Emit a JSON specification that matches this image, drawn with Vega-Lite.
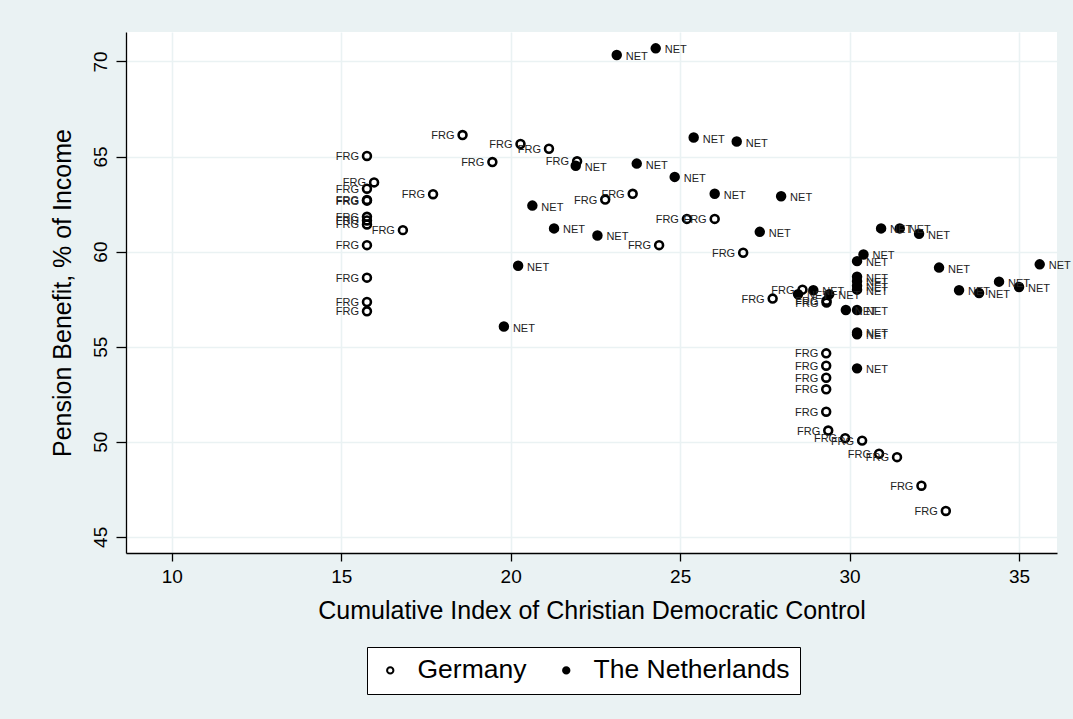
{
  "$schema": "https://vega.github.io/schema/vega-lite/v6.json",
  "width": 931,
  "height": 521,
  "autosize": {"type": "none"},
  "padding": {"left": 126, "top": 32, "right": 16, "bottom": 166},
  "background": "#EAF2F3",
  "config": {
    "font": "Liberation Sans",
    "view": {"fill": "white", "stroke": null},
    "axis": {
      "grid": true,
      "gridColor": "#EAF2F3",
      "gridWidth": 1.6,
      "domainColor": "black",
      "domainWidth": 1.3,
      "tickColor": "black",
      "tickWidth": 1.3,
      "labelColor": "black",
      "labelFontSize": 19,
      "labelFlush": false,
      "titleColor": "black",
      "titleFontSize": 25,
      "titleFontWeight": "normal"
    }
  },
  "data": {
    "values": [
      {"country": "Germany", "label": "FRG", "x": 18.58, "y": 66.13},
      {"country": "Germany", "label": "FRG", "x": 20.29, "y": 65.66},
      {"country": "Germany", "label": "FRG", "x": 21.13, "y": 65.41},
      {"country": "Germany", "label": "FRG", "x": 15.76, "y": 65.03},
      {"country": "Germany", "label": "FRG", "x": 19.46, "y": 64.71},
      {"country": "Germany", "label": "FRG", "x": 21.96, "y": 64.75},
      {"country": "Germany", "label": "FRG", "x": 15.97, "y": 63.64},
      {"country": "Germany", "label": "FRG", "x": 15.76, "y": 63.31},
      {"country": "Germany", "label": "FRG", "x": 15.76, "y": 62.72},
      {"country": "Germany", "label": "FRG", "x": 15.76, "y": 62.68},
      {"country": "Germany", "label": "FRG", "x": 17.71, "y": 63.02},
      {"country": "Germany", "label": "FRG", "x": 15.76, "y": 61.83},
      {"country": "Germany", "label": "FRG", "x": 15.76, "y": 61.64},
      {"country": "Germany", "label": "FRG", "x": 15.76, "y": 61.43},
      {"country": "Germany", "label": "FRG", "x": 16.82, "y": 61.13},
      {"country": "Germany", "label": "FRG", "x": 15.76, "y": 60.34},
      {"country": "Germany", "label": "FRG", "x": 15.76, "y": 58.63},
      {"country": "Germany", "label": "FRG", "x": 15.76, "y": 57.35},
      {"country": "Germany", "label": "FRG", "x": 15.76, "y": 56.86},
      {"country": "Germany", "label": "FRG", "x": 23.60, "y": 63.04},
      {"country": "Germany", "label": "FRG", "x": 22.79, "y": 62.74},
      {"country": "Germany", "label": "FRG", "x": 25.20, "y": 61.72},
      {"country": "Germany", "label": "FRG", "x": 26.02, "y": 61.72},
      {"country": "Germany", "label": "FRG", "x": 24.38, "y": 60.34},
      {"country": "Germany", "label": "FRG", "x": 26.86, "y": 59.94},
      {"country": "Germany", "label": "FRG", "x": 27.73, "y": 57.53},
      {"country": "Germany", "label": "FRG", "x": 28.61, "y": 58.00},
      {"country": "Germany", "label": "FRG", "x": 29.32, "y": 57.42},
      {"country": "Germany", "label": "FRG", "x": 29.32, "y": 57.32},
      {"country": "Germany", "label": "FRG", "x": 29.31, "y": 54.65},
      {"country": "Germany", "label": "FRG", "x": 29.31, "y": 54.00},
      {"country": "Germany", "label": "FRG", "x": 29.31, "y": 53.37},
      {"country": "Germany", "label": "FRG", "x": 29.31, "y": 52.76},
      {"country": "Germany", "label": "FRG", "x": 29.31, "y": 51.58},
      {"country": "Germany", "label": "FRG", "x": 29.37, "y": 50.59},
      {"country": "Germany", "label": "FRG", "x": 29.87, "y": 50.19},
      {"country": "Germany", "label": "FRG", "x": 30.37, "y": 50.06},
      {"country": "Germany", "label": "FRG", "x": 30.87, "y": 49.37},
      {"country": "Germany", "label": "FRG", "x": 31.40, "y": 49.19},
      {"country": "Germany", "label": "FRG", "x": 32.12, "y": 47.69},
      {"country": "Germany", "label": "FRG", "x": 32.84, "y": 46.36},
      {"country": "The Netherlands", "label": "NET", "x": 23.13, "y": 70.34},
      {"country": "The Netherlands", "label": "NET", "x": 24.28, "y": 70.69},
      {"country": "The Netherlands", "label": "NET", "x": 25.40, "y": 66.00},
      {"country": "The Netherlands", "label": "NET", "x": 26.67, "y": 65.79},
      {"country": "The Netherlands", "label": "NET", "x": 21.92, "y": 64.52},
      {"country": "The Netherlands", "label": "NET", "x": 23.72, "y": 64.63},
      {"country": "The Netherlands", "label": "NET", "x": 24.84, "y": 63.93},
      {"country": "The Netherlands", "label": "NET", "x": 26.02, "y": 63.04},
      {"country": "The Netherlands", "label": "NET", "x": 27.98, "y": 62.91},
      {"country": "The Netherlands", "label": "NET", "x": 20.64, "y": 62.42},
      {"country": "The Netherlands", "label": "NET", "x": 21.28, "y": 61.22},
      {"country": "The Netherlands", "label": "NET", "x": 22.56, "y": 60.85},
      {"country": "The Netherlands", "label": "NET", "x": 27.35, "y": 61.04},
      {"country": "The Netherlands", "label": "NET", "x": 20.22, "y": 59.26},
      {"country": "The Netherlands", "label": "NET", "x": 19.80, "y": 56.06},
      {"country": "The Netherlands", "label": "NET", "x": 30.93, "y": 61.22},
      {"country": "The Netherlands", "label": "NET", "x": 31.48, "y": 61.22},
      {"country": "The Netherlands", "label": "NET", "x": 32.05, "y": 60.94},
      {"country": "The Netherlands", "label": "NET", "x": 30.41, "y": 59.85},
      {"country": "The Netherlands", "label": "NET", "x": 30.22, "y": 59.50},
      {"country": "The Netherlands", "label": "NET", "x": 32.64, "y": 59.16},
      {"country": "The Netherlands", "label": "NET", "x": 35.61, "y": 59.33},
      {"country": "The Netherlands", "label": "NET", "x": 30.22, "y": 58.68},
      {"country": "The Netherlands", "label": "NET", "x": 30.22, "y": 58.44},
      {"country": "The Netherlands", "label": "NET", "x": 30.22, "y": 58.21},
      {"country": "The Netherlands", "label": "NET", "x": 30.22, "y": 58.00},
      {"country": "The Netherlands", "label": "NET", "x": 34.41, "y": 58.42},
      {"country": "The Netherlands", "label": "NET", "x": 35.00, "y": 58.14},
      {"country": "The Netherlands", "label": "NET", "x": 33.23, "y": 57.97},
      {"country": "The Netherlands", "label": "NET", "x": 33.82, "y": 57.82},
      {"country": "The Netherlands", "label": "NET", "x": 28.48, "y": 57.76},
      {"country": "The Netherlands", "label": "NET", "x": 28.93, "y": 57.97},
      {"country": "The Netherlands", "label": "NET", "x": 29.40, "y": 57.76},
      {"country": "The Netherlands", "label": "NET", "x": 29.89, "y": 56.93},
      {"country": "The Netherlands", "label": "NET", "x": 30.22, "y": 56.93},
      {"country": "The Netherlands", "label": "NET", "x": 30.22, "y": 55.75},
      {"country": "The Netherlands", "label": "NET", "x": 30.22, "y": 55.65},
      {"country": "The Netherlands", "label": "NET", "x": 30.22, "y": 53.86}
    ]
  },
  "encoding": {
    "x": {
      "field": "x",
      "type": "quantitative",
      "scale": {"domain": [8.65, 36.12], "nice": false, "zero": false},
      "axis": {
        "values": [10, 15, 20, 25, 30, 35],
        "title": "Cumulative Index of Christian Democratic Control",
        "tickSize": 8,
        "labelPadding": 6,
        "titlePadding": 12
      }
    },
    "y": {
      "field": "y",
      "type": "quantitative",
      "scale": {"domain": [44.15, 71.55], "nice": false, "zero": false},
      "axis": {
        "values": [45, 50, 55, 60, 65, 70],
        "title": "Pension Benefit, % of Income",
        "labelAngle": -90,
        "labelAlign": "center",
        "labelBaseline": "bottom",
        "tickSize": 10,
        "labelPadding": 6,
        "titlePadding": 16
      }
    }
  },
  "layer": [
    {
      "mark": {"type": "point", "shape": "circle", "filled": true, "size": 62, "stroke": "black", "strokeWidth": 2.6, "opacity": 1},
      "encoding": {
        "fill": {
          "field": "country",
          "type": "nominal",
          "scale": {"domain": ["Germany", "The Netherlands"], "range": ["transparent", "black"]},
          "legend": {
            "orient": "none",
            "legendX": 241,
            "legendY": 615,
            "direction": "horizontal",
            "title": null,
            "fillColor": "white",
            "strokeColor": "black",
            "padding": 10,
            "labelFontSize": 26.5,
            "labelColor": "black",
            "labelLimit": 400,
            "labelOffset": 14,
            "symbolType": "circle",
            "symbolSize": 40,
            "symbolStrokeColor": "black",
            "symbolStrokeWidth": 2,
            "columnPadding": 26
          }
        }
      }
    },
    {
      "transform": [{"filter": "datum.country === 'Germany'"}],
      "mark": {"type": "text", "align": "right", "baseline": "middle", "dx": -8, "dy": 1, "fontSize": 11, "color": "#222222"},
      "encoding": {"text": {"field": "label"}}
    },
    {
      "transform": [{"filter": "datum.country === 'The Netherlands'"}],
      "mark": {"type": "text", "align": "left", "baseline": "middle", "dx": 9, "dy": 2, "fontSize": 11, "color": "#222222"},
      "encoding": {"text": {"field": "label"}}
    }
  ]
}
